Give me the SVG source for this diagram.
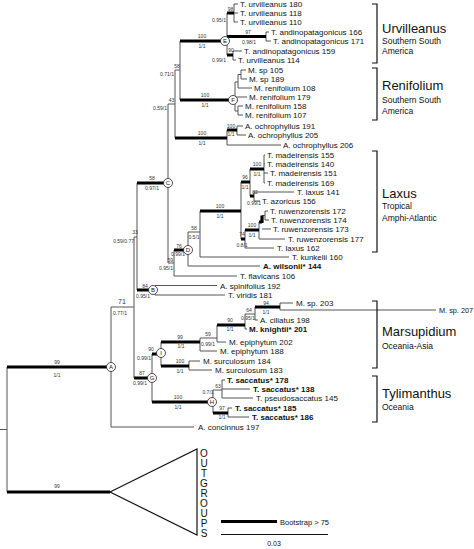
<svg xmlns="http://www.w3.org/2000/svg" width="474" height="549" viewBox="0 0 474 549">
<style>
.thin{fill:none;stroke:#555;stroke-width:1}
.thick{fill:none;stroke:#000;stroke-width:3.2}
.br{fill:none;stroke:#111;stroke-width:1.2}
.lf{font-family:"Liberation Sans",Arial,sans-serif;font-size:8px;fill:#111}
.b{font-weight:bold}
.s{font-family:"Liberation Sans",Arial,sans-serif;font-size:5px;fill:#333;text-anchor:middle}
.e{text-anchor:end}
.cl{font-family:"Liberation Sans",Arial,sans-serif;font-size:13px;fill:#111}
.sub{font-family:"Liberation Sans",Arial,sans-serif;font-size:8.5px;fill:#111}
.nc{fill:#fff;stroke:#222;stroke-width:0.8}
.nl{font-family:"Liberation Sans",Arial,sans-serif;font-size:6px;fill:#111;text-anchor:middle}
.og{font-family:"Liberation Sans",Arial,sans-serif;font-size:10px;fill:#111;text-anchor:middle}
</style>
<rect width="474" height="549" fill="#fff"/>
<g id="connectors">
<path class="thin" d="M0 429.5H7M7 367V492M111 307V427M111 307H134M134 237V378M134 237H137M137 183V290
M168 104V263M168 104H175M175 70V138M175 70H180M180 41V100M227 13V55M234 4V22M234 4H238M234 13H238M234 22H238
M266 32V41M266 32H269M266 41H271M233 51V60M233 51H242M233 60H236
M235 82V111M235 82H238M238 74.5V88M238 74.5H241M241 70V79M241 70H246M241 79H247M238 88H252M235 97H247M235 111H238M238 106V115M238 106H243M238 115H243
M227 130V145M237 126V135M237 126H243M237 135H246M227 145H281
M168 263H174M174 250V276M188 232V266M174 276H237M188 266H260M188 232H200M200 211V257M200 257H289M241 182V239M250 169V196
M264 155V183M264 155H265M264 164H265M264 173H268M264 183H265M254 192V201M254 192H294M254 201H260
M245 230V248M259 222V239M259 239H285M262 229H271M262 215.5H265M265 211V220M265 211H268M265 220H269M245 248H274
M155 285.5V295M155 285.5H217M155 295H225
M152 354V402M161 342V366M200 338V351M200 351H217M200 338H217M217 325V342M217 342H226M245 314V329M245 329H247M245 314H255M255 307V320M255 320H258M280 303V310M280 303H293M280 310H436
M189 361V370M189 361H200M189 370H212M213 390V413M213 390H222M222 380V398M222 380H225M222 389H250M222 398H253M228 408V417M228 408H232M228 417H249M111 427H194"/>
<path class="thick" d="M7 367H107M7 492H110M137 183H164M180 41H221M227 13H234M227 36.5H266M227 55H233M180 100H229M175 138H227M227 130H237
M174 250H184M200 211H241M241 182H250M250 169H264M250 196H254M241 239H245M245 230H259M259 222H262M262 215.5V223
M137 290H149M134 378H148M152 354H157M161 342H200M217 325H245M255 307H280M161 366H189M152 402H208M213 413H228"/>
<path class="br" d="M110 492L197 449L197 535Z"/>
</g>
<g id="nodes">
<g id="nA"><circle class="nc" cx="111" cy="367" r="4.5"/><text class="nl" x="111" y="369.2">A</text></g>
<g id="nB"><circle class="nc" cx="153" cy="290" r="4.5"/><text class="nl" x="153" y="292.2">B</text></g>
<g id="nC"><circle class="nc" cx="168" cy="183" r="4.5"/><text class="nl" x="168" y="185.2">C</text></g>
<g id="nD"><circle class="nc" cx="188" cy="250" r="4.5"/><text class="nl" x="188" y="252.2">D</text></g>
<g id="nE"><circle class="nc" cx="225" cy="41" r="4.5"/><text class="nl" x="225" y="43.2">E</text></g>
<g id="nF"><circle class="nc" cx="233" cy="100" r="4.5"/><text class="nl" x="233" y="102.2">F</text></g>
<g id="nG"><circle class="nc" cx="152" cy="378" r="4.5"/><text class="nl" x="152" y="380.2">G</text></g>
<g id="nH"><circle class="nc" cx="212" cy="402" r="4.5"/><text class="nl" x="212" y="404.2">H</text></g>
<g id="nI"><circle class="nc" cx="161" cy="353" r="4.5"/><text class="nl" x="161" y="355.2">I</text></g>
</g>
<g id="supports">
<text class="s" x="230.5" y="11">98</text><text class="s e" x="226" y="22">0.95/1</text>
<text class="s" x="248" y="34">97</text><text class="s" x="249" y="44">0.98/1</text>
<text class="s" x="231" y="52">90</text><text class="s e" x="226" y="62">0.99/1</text>
<text class="s" x="202" y="38">100</text><text class="s" x="202" y="48">1/1</text>
<text class="s" x="177" y="67.5">58</text><text class="s e" x="174" y="76">0.71/1</text>
<text class="s" x="205" y="97">100</text><text class="s" x="205" y="107">1/1</text>
<text class="s" x="171.5" y="101.5">43</text><text class="s e" x="167" y="110">0.59/1</text>
<text class="s" x="202" y="135">100</text><text class="s" x="202" y="145">1/1</text>
<text class="s" x="231" y="127.5">100</text><text class="s" x="231" y="136">1/1</text>
<text class="s" x="152" y="180">58</text><text class="s" x="152" y="190">0.97/1</text>
<text class="s" x="135" y="234">33</text><text class="s e" x="134" y="243">0.59/0.77</text>
<text class="s" x="245" y="179">96</text><text class="s" x="245" y="189">1/1</text>
<text class="s" x="257" y="166">100</text><text class="s" x="257" y="176">1/1</text>
<text class="s" x="255" y="193.5">82</text><text class="s" x="254" y="205">0.99/1</text>
<text class="s" x="220" y="208">100</text><text class="s" x="220" y="218">1/1</text>
<text class="s" x="252" y="227">100</text><text class="s" x="252" y="237">1/1</text>
<text class="s" x="242" y="236">74</text><text class="s" x="242" y="246.5">0.8/1</text>
<text class="s" x="194" y="229.5">58</text><text class="s" x="194" y="239">0.5/1</text>
<text class="s" x="179" y="247.5">76</text><text class="s" x="178" y="256">0.99/1</text>
<text class="s e" x="173" y="262">59</text><text class="s e" x="173" y="269.5">0.95/1</text>
<text class="s" x="145" y="287.5">84</text><text class="s" x="143" y="297.5">0.95/1</text>
<text class="s" x="122" y="304" style="font-size:7px">71</text><text class="s" x="120" y="315">0.77/1</text>
<text class="s" x="57" y="364">99</text><text class="s" x="57" y="377">1/1</text>
<text class="s" x="266" y="304.5">94</text><text class="s" x="266" y="314">1/1</text>
<text class="s" x="249" y="311.5">64</text><text class="s" x="248" y="320">0.95/1</text>
<text class="s" x="230" y="322">90</text><text class="s" x="230" y="331">1/1</text>
<text class="s" x="208" y="335.5">59</text><text class="s" x="208" y="346">0.99/1</text>
<text class="s" x="180" y="339">99</text><text class="s" x="181" y="348">1/1</text>
<text class="s" x="151" y="350.5">90</text><text class="s" x="144" y="360">0.99/1</text>
<text class="s" x="180" y="363">100</text><text class="s" x="180" y="372.5">1/1</text>
<text class="s" x="142" y="375">87</text><text class="s" x="140" y="385">0.99/1</text>
<text class="s" x="218" y="387.5">63</text><text class="s" x="208" y="394">0.7/1</text>
<text class="s" x="178" y="399">100</text><text class="s" x="178" y="409">1/1</text>
<text class="s" x="222" y="410">97</text><text class="s" x="222" y="419">1/1</text>
<text class="s" x="57" y="488">99</text>
</g>
<g id="leaves">
<g id="l1"><text class="lf" x="240" y="7">T. urvilleanus 180</text></g>
<g id="l2"><text class="lf" x="240" y="16">T. urvilleanus 118</text></g>
<g id="l3"><text class="lf" x="240" y="25">T. urvilleanus 110</text></g>
<g id="l4"><text class="lf" x="271" y="35">T. andinopatagonicus 166</text></g>
<g id="l5"><text class="lf" x="273" y="44">T. andinopatagonicus 171</text></g>
<g id="l6"><text class="lf" x="244" y="54">T. andinopatagonicus 159</text></g>
<g id="l7"><text class="lf" x="238" y="63">T. urvilleanus 114</text></g>
<g id="l8"><text class="lf" x="248" y="73">M. sp 105</text></g>
<g id="l9"><text class="lf" x="249" y="82">M. sp 189</text></g>
<g id="l10"><text class="lf" x="254" y="91">M. renifolium 108</text></g>
<g id="l11"><text class="lf" x="249" y="100">M. renifolium 179</text></g>
<g id="l12"><text class="lf" x="245" y="109">M. renifolium 158</text></g>
<g id="l13"><text class="lf" x="245" y="118">M. renifolium 107</text></g>
<g id="l14"><text class="lf" x="245" y="129">A. ochrophyllus 191</text></g>
<g id="l15"><text class="lf" x="248" y="138">A. ochrophyllus 205</text></g>
<g id="l16"><text class="lf" x="283" y="148">A. ochrophyllus 206</text></g>
<g id="l17"><text class="lf" x="267" y="158">T. madeirensis 155</text></g>
<g id="l18"><text class="lf" x="267" y="167">T. madeirensis 140</text></g>
<g id="l19"><text class="lf" x="270" y="176">T. madeirensis 151</text></g>
<g id="l20"><text class="lf" x="267" y="186">T. madeirensis 169</text></g>
<g id="l21"><text class="lf" x="297" y="195">T. laxus 141</text></g>
<g id="l22"><text class="lf" x="262" y="204">T. azoricus 156</text></g>
<g id="l23"><text class="lf" x="270" y="214">T. ruwenzorensis 172</text></g>
<g id="l24"><text class="lf" x="271" y="223">T. ruwenzorensis 174</text></g>
<g id="l25"><text class="lf" x="273" y="232">T. ruwenzorensis 173</text></g>
<g id="l26"><text class="lf" x="288" y="242">T. ruwenzorensis 177</text></g>
<g id="l27"><text class="lf" x="277" y="251">T. laxus 162</text></g>
<g id="l28"><text class="lf" x="292" y="260">T. kunkelii 160</text></g>
<g id="l29"><text class="lf b" x="263" y="269">A. wilsonii* 144</text></g>
<g id="l30"><text class="lf" x="240" y="279">T. flavicans 106</text></g>
<g id="l31"><text class="lf" x="220" y="288.5">A. spinifolius 192</text></g>
<g id="l32"><text class="lf" x="228" y="298">T. viridis 181</text></g>
<g id="l33"><text class="lf" x="296" y="306">M. sp. 203</text></g>
<g id="l34"><text class="lf" x="439" y="312.5" style="font-size:7.3px">M. sp. 207</text></g>
<g id="l35"><text class="lf" x="260" y="323">A. ciliatus 198</text></g>
<g id="l36"><text class="lf b" x="249" y="332">M. knightii* 201</text></g>
<g id="l37"><text class="lf" x="229" y="345">M. epiphytum 202</text></g>
<g id="l38"><text class="lf" x="220" y="354">M. epiphytum 188</text></g>
<g id="l39"><text class="lf" x="203" y="364">M. surculosum 184</text></g>
<g id="l40"><text class="lf" x="215" y="373">M. surculosum 183</text></g>
<g id="l41"><text class="lf b" x="227" y="383">T. saccatus* 178</text></g>
<g id="l42"><text class="lf b" x="253" y="392">T. saccatus* 138</text></g>
<g id="l43"><text class="lf" x="256" y="401">T. pseudosaccatus 145</text></g>
<g id="l44"><text class="lf b" x="235" y="411">T. saccatus* 185</text></g>
<g id="l45"><text class="lf b" x="252" y="420">T. saccatus* 186</text></g>
<g id="l46"><text class="lf" x="198" y="430">A. concinnus 197</text></g>
</g>
<g id="clades">
<g id="urvilleanus"><path class="br" d="M372 4H377V63H372"/><text class="cl" x="382" y="33">Urvilleanus</text><text class="sub" x="382" y="43.5">Southern South</text><text class="sub" x="382" y="54">America</text></g>
<g id="renifolium"><path class="br" d="M372 68H377V120H372"/><text class="cl" x="382" y="90">Renifolium</text><text class="sub" x="382" y="103">Southern South</text><text class="sub" x="382" y="114">America</text></g>
<g id="laxus"><path class="br" d="M372 151H377V252H372"/><text class="cl" x="382" y="197.5">Laxus</text><text class="sub" x="382" y="209">Tropical</text><text class="sub" x="382" y="221">Amphi-Atlantic</text></g>
<g id="marsupidium"><path class="br" d="M372 301H377V368H372"/><text class="cl" x="382" y="335.5">Marsupidium</text><text class="sub" x="382" y="348.5">Oceania-Asia</text></g>
<g id="tylimanthus"><path class="br" d="M372 376H377V422H372"/><text class="cl" x="382" y="397.5">Tylimanthus</text><text class="sub" x="382" y="409.5">Oceania</text></g>
</g>
<g id="outgroups">
<text class="og" x="204" y="457">O</text><text class="og" x="204" y="467">U</text><text class="og" x="204" y="477">T</text><text class="og" x="204" y="487">G</text><text class="og" x="204" y="497">R</text><text class="og" x="204" y="507">O</text><text class="og" x="204" y="517">U</text><text class="og" x="204" y="527">P</text><text class="og" x="204" y="537">S</text>
</g>
<g id="legend">
<path d="M221 521.5H277" stroke="#000" stroke-width="3" fill="none"/>
<text class="lf" x="280" y="524.5" style="font-size:7.5px">Bootstrap &gt; 75</text>
<path d="M221 534.5H328" stroke="#111" stroke-width="1" fill="none"/>
<text class="lf" x="274" y="546" style="font-size:7px;text-anchor:middle">0.03</text>
</g>
</svg>
